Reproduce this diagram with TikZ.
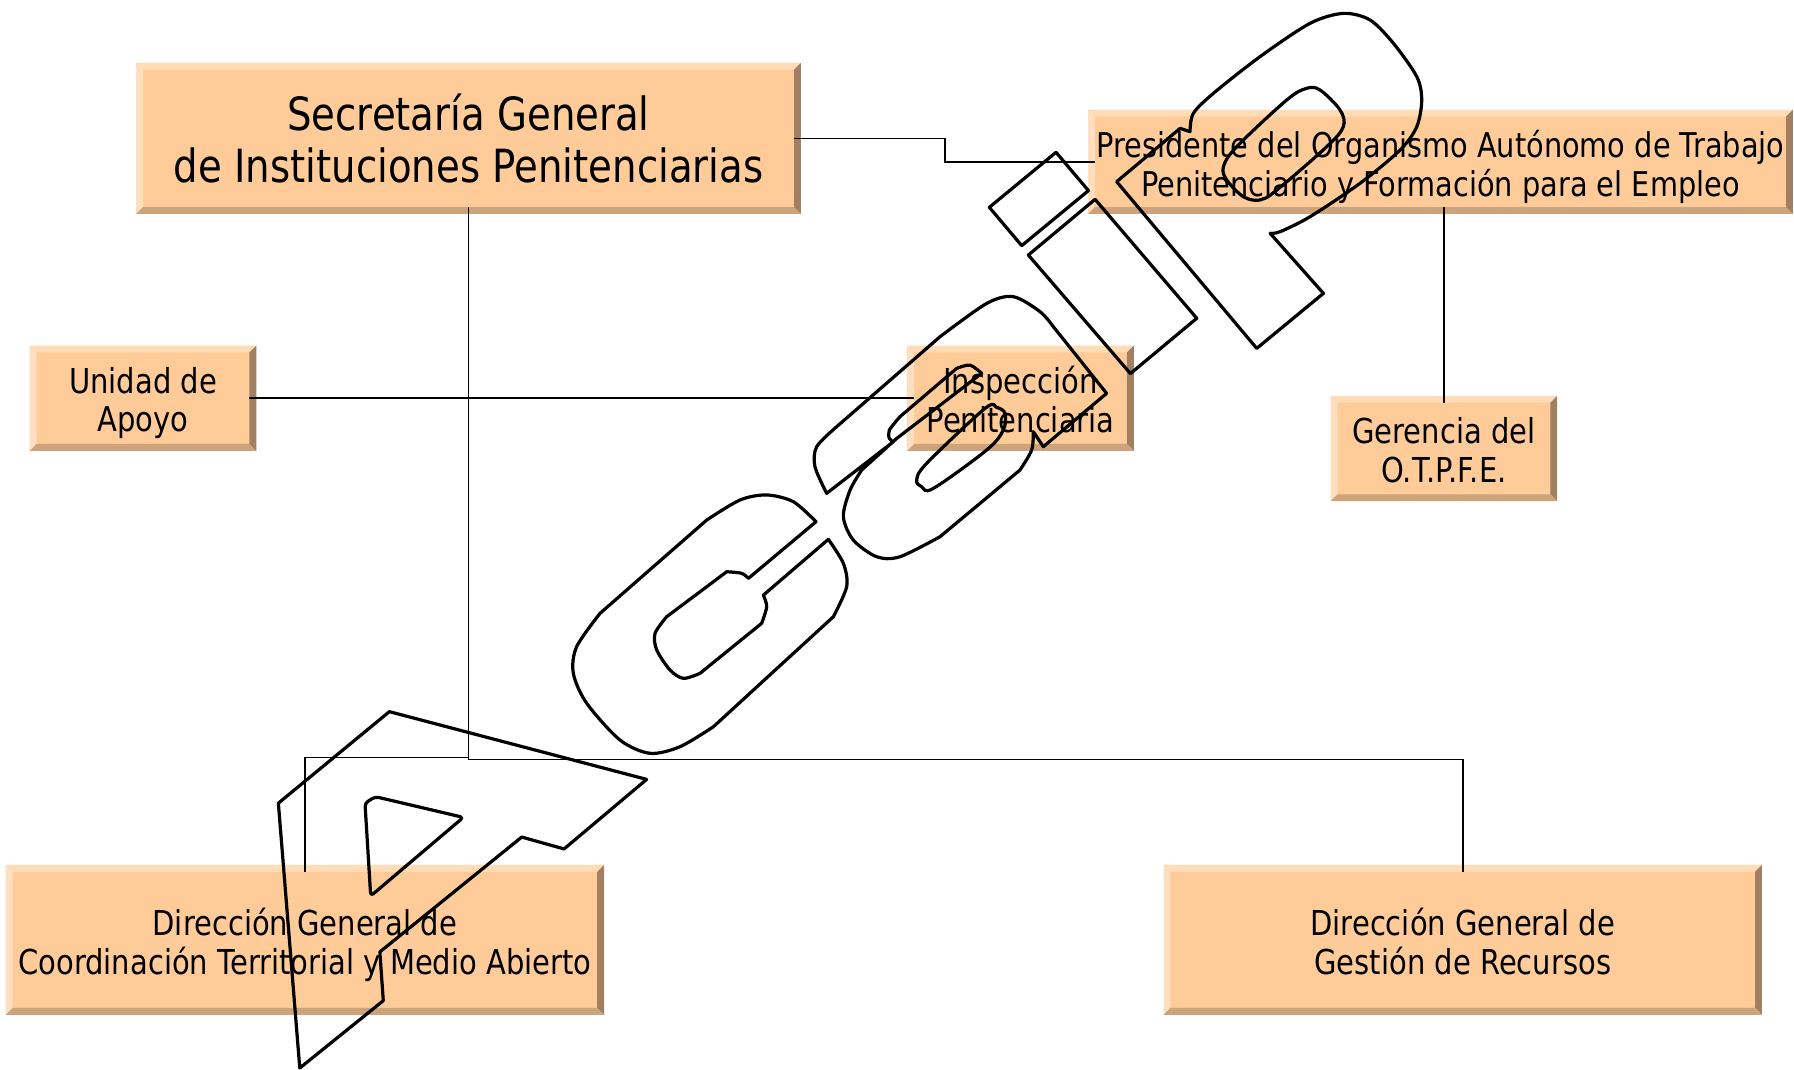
\documentclass[tikz,border=0pt]{standalone}
\usepackage{fontspec}
\setmainfont{DejaVu Sans}[FakeStretch=0.845]
\usetikzlibrary{calc}
\definecolor{face}{HTML}{FFCC99}
\definecolor{bevT}{HTML}{FFDBB6}
\definecolor{bevL}{HTML}{FFDFBF}
\definecolor{bevR}{HTML}{A08060}
\definecolor{bevB}{HTML}{CCA37A}
\newcommand{\twolines}[1]{\raisebox{-6pt}[\height][\depth]{\begin{tabular}{@{}c@{}}#1\end{tabular}}}
\begin{document}
\begin{tikzpicture}[x=1pt,y=-1pt,
  bevbox/.style={rectangle, inner sep=0pt, outer sep=-6pt, fill=face, align=center,
    font=\fontsize{30}{33.5}\selectfont,
    path picture={
      \coordinate (o1) at (path picture bounding box.north west);
      \coordinate (o2) at (path picture bounding box.north east);
      \coordinate (o3) at (path picture bounding box.south east);
      \coordinate (o4) at (path picture bounding box.south west);
      \coordinate (i1) at ($(o1)+(6pt,-6pt)$);
      \coordinate (i2) at ($(o2)+(-6pt,-6pt)$);
      \coordinate (i3) at ($(o3)+(-6pt,6pt)$);
      \coordinate (i4) at ($(o4)+(6pt,6pt)$);
      \fill[bevT] (o1)--(o2)--(i2)--(i1)--cycle;
      \fill[bevL] (o1)--(i1)--(i4)--(o4)--cycle;
      \fill[bevR] (o2)--(o3)--(i3)--(i2)--cycle;
      \fill[bevB] (o4)--(i4)--(i3)--(o3)--cycle;
    }},
  conn/.style={line width=1.25pt, black},
  wm/.style={line width=2.8pt, black, line join=round}]
\useasboundingbox (0,0) rectangle (1568,935);
\fill[white] (0,0) rectangle (1568,935);

% boxes
\node[bevbox, minimum width=581pt, minimum height=132pt, font=\fontsize{40}{45}\selectfont] (sg) at (409.5,121) {Secretaría General\\de Instituciones Penitenciarias};
\node[bevbox, minimum width=616pt, minimum height=91pt, font=\fontsize{29.8}{33.5}\selectfont] (pres) at (1259,141.5) {\twolines{Presidente del Organismo Autónomo de Trabajo\\Penitenciario y Formación para el Empleo}};
\node[bevbox, minimum width=198pt, minimum height=92pt] (ua) at (125,348) {\twolines{Unidad de\\Apoyo}};
\node[bevbox, minimum width=198pt, minimum height=92pt] (insp) at (892,348) {\twolines{Inspección\\Penitenciaria}};
\node[bevbox, minimum width=198pt, minimum height=92pt] (ger) at (1262,392) {\twolines{Gerencia del\\O.T.P.F.E.}};
\node[bevbox, minimum width=523pt, minimum height=131pt] (dgct) at (266.5,821.5) {\twolines{Dirección General de\\Coordinación Territorial y Medio Abierto}};
\node[bevbox, minimum width=523pt, minimum height=131pt] (dggr) at (1278.5,821.5) {\twolines{Dirección General de\\Gestión de Recursos}};

% connectors
\coordinate (jr) at (409.5,664);
\coordinate (jl) at (409.5,662);
\draw[conn] (sg.east) -- (826,121) |- (pres.west);
\draw[conn] (sg.south) -- (jr) -| (dggr.north);
\draw[conn] (jl) -| (dgct.north);
\draw[conn] (ua.east) -- (insp.west);
\draw[conn] (ger.north |- pres.south) -- (ger.north);

% watermark: A
\draw[wm] (340.3,622) -- (565.2,681.2) -- (493,742) -- (456,731.6) -- (332,832) -- (335,874.6) -- (262,933.5) -- (243.3,702) -- cycle;
\draw[wm, rounded corners=3pt] (319,702) -- (324,783.1) -- (405,714.4) -- (328,696.3) -- cycle;
% c
\draw[wm] (713.2,456) -- plot[smooth] coordinates {(713.2,456) (693.4,438.5) (670.1,432.6) (646.8,437) (617.7,454.5)}
  -- (524.4,536.1) -- plot[smooth] coordinates {(524.4,536.1) (504,565.2) (501.1,588.5) (512.8,614.7) (541.9,646.8) (568.1,658.4) (594.4,652.6) (623.5,635.2)}
  -- (728.4,539) -- plot[smooth] coordinates {(728.4,539) (740,512.8) (737.1,492.4) (724,471.4)}
  -- (667.2,520.1) -- plot[smooth] coordinates {(667.2,520.1) (670.1,530.3) (665.7,544.8)}
  -- (611.8,588.5) -- plot[smooth] coordinates {(611.8,588.5) (597.3,592.9) (585.6,585.6) (574,568.1) (572.5,553.6) (582.7,539)}
  -- (635.2,499.7) -- plot[smooth] coordinates {(635.2,499.7) (648.2,501.1) (654.1,505.5)} -- cycle;
% a
\draw[wm] (722.5,431.2) -- plot[smooth] coordinates {(722.5,431.2) (712.3,407.9) (713.8,390.4) (731.2,373.0)}
  -- (821.6,294.3) -- plot[smooth] coordinates {(821.6,294.3) (862.4,265.2) (885.7,259.3) (909.0,272.4) (920.6,285.5)}
  -- (967.2,343.8) -- (911.9,390.4) -- (903.1,377.3)
  -- plot[smooth] coordinates {(903.1,377.3) (901.7,393.3) (891.5,410.8)}
  -- (821.6,469.1) -- plot[smooth] coordinates {(821.6,469.1) (786.6,486.6) (766.2,486.6) (745.8,472.0) (737.1,451.6) (743.0,428.3) (753.1,410.8)}
  -- (783.7,383.2) -- (858.0,326.3) -- plot[smooth] coordinates {(858.0,326.3) (847.8,319.1) (836.1,322)}
  -- (786.6,364.2) -- plot[smooth] coordinates {(786.6,364.2) (777.3,375.9) (777.3,383.2) (780.8,386.1)} -- cycle;
\draw[wm] plot[smooth cycle, tension=0.55] coordinates {(801.2,419.6) (805.5,425.4) (815.7,426.9) (862.4,393.3) (876.9,375.9) (878.4,361.3) (871.1,356.1) (860.9,357.0) (809.9,405.0)};
% i
\draw[wm] (864.7,181.2) -- (923.0,133.1) -- (951.3,166.6) -- (893.0,214.7) -- cycle;
\draw[wm] (898.8,222.9) -- (957.1,174.2) -- (1046,278.2) -- (988,326.5) -- cycle;
% p
\draw[wm] (976.0,158.8) -- (1031.4,112.2) -- (1040.1,115.1)
  -- plot[smooth] coordinates {(1040.1,115.1) (1043.0,99.1) (1060.5,81.6) (1101.3,49.5) (1145.0,20.4) (1174.1,11.7) (1197.5,17.5) (1217.9,37.9) (1238.3,67.0) (1242.6,87.4) (1238.3,110.7) (1223.7,131.1) (1188.7,160.2) (1145.0,189.4) (1118.8,202.5) (1110.1,203.9)}
  -- (1156.7,256.4) -- (1098.4,304.5) -- cycle;
\draw[wm] plot[smooth cycle, tension=0.55] coordinates {(1069.3,145.7) (1072.2,157.3) (1086.7,171.9) (1101.3,174.8) (1115.9,166.1) (1159.6,128.2) (1174.1,110.7) (1171.2,96.1) (1153.8,78.7) (1142.1,77.2) (1124.6,87.4) (1080.9,128.2)};
\end{tikzpicture}
\end{document}
